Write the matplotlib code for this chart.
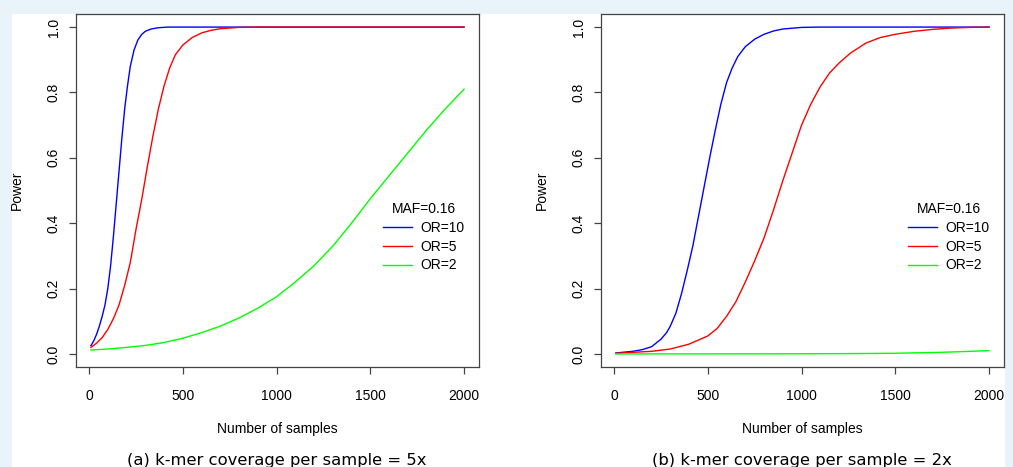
import matplotlib
matplotlib.use("Agg")
import matplotlib.pyplot as plt
from matplotlib.patches import Rectangle

# values (Power vs Number of samples)
n_blue_5x = [10, 25, 40, 55, 70, 85, 100, 115, 130, 145, 160, 175, 190, 205, 220, 240, 260,
             280, 300, 330, 370, 420, 2000]
p_blue_5x = [0.025, 0.04, 0.06, 0.085, 0.115, 0.15, 0.2, 0.27, 0.36, 0.46, 0.56, 0.66, 0.75,
             0.82, 0.88, 0.93, 0.96, 0.977, 0.987, 0.994, 0.998, 1.0, 1.0]

n_red_5x = [10, 40, 70, 100, 130, 160, 190, 220, 250, 280, 310, 340, 370, 400, 430, 460, 500,
            550, 600, 650, 700, 800, 900, 2000]
p_red_5x = [0.02, 0.033, 0.05, 0.075, 0.108, 0.15, 0.21, 0.28, 0.38, 0.47, 0.57, 0.665, 0.75,
            0.82, 0.875, 0.915, 0.945, 0.968, 0.982, 0.99, 0.995, 0.999, 1.0, 1.0]

n_green_5x = [10, 100, 200, 300, 400, 500, 600, 700, 800, 900, 1000, 1100, 1200, 1300, 1400,
              1500, 1600, 1700, 1800, 1900, 2000]
p_green_5x = [0.012, 0.015, 0.02, 0.026, 0.035, 0.048, 0.065, 0.085, 0.11, 0.14, 0.175, 0.22,
              0.27, 0.33, 0.40, 0.475, 0.545, 0.615, 0.685, 0.75, 0.81]

n_blue_2x = [10, 100, 150, 200, 250, 280, 300, 330, 360, 390, 420, 450, 480, 510, 540, 570,
             600, 630, 660, 700, 750, 800, 850, 900, 1000, 1100, 2000]
p_blue_2x = [0.003, 0.008, 0.013, 0.022, 0.045, 0.065, 0.085, 0.125, 0.185, 0.255, 0.33, 0.42,
             0.51, 0.6, 0.685, 0.765, 0.83, 0.875, 0.91, 0.94, 0.963, 0.978, 0.988, 0.994,
             0.999, 1.0, 1.0]

n_red_2x = [10, 200, 300, 400, 500, 550, 600, 650, 700, 750, 800, 850, 900, 950, 1000, 1050,
            1100, 1150, 1200, 1260, 1343, 1420, 1500, 1600, 1700, 1800, 1900, 2000]
p_red_2x = [0.002, 0.008, 0.015, 0.03, 0.055, 0.078, 0.115, 0.16, 0.22, 0.285, 0.355, 0.44,
            0.53, 0.615, 0.7, 0.765, 0.818, 0.86, 0.89, 0.92, 0.951, 0.968, 0.978, 0.987,
            0.993, 0.997, 0.999, 1.0]

n_green_2x = [10, 500, 1000, 1250, 1500, 1750, 2000]
p_green_2x = [0.0, 0.0001, 0.0005, 0.001, 0.002, 0.005, 0.01]

labels = ["OR=10", "OR=5", "OR=2"]
colors = ["#0000ff", "#ff0000", "#00ff00"]
captions = ["(a) k-mer coverage per sample = 5x", "(b) k-mer coverage per sample = 2x"]

panels = [
    [(n_blue_5x, p_blue_5x), (n_red_5x, p_red_5x), (n_green_5x, p_green_5x)],
    [(n_blue_2x, p_blue_2x), (n_red_2x, p_red_2x), (n_green_2x, p_green_2x)],
]

plt.rcParams['font.family'] = ['Liberation Sans', 'DejaVu Sans']

fig = plt.figure(figsize=(10.13, 4.67), dpi=100, facecolor="#e8f3fa")
fig.patches.append(Rectangle((12 / 1013, 0), 993 / 1013, 453 / 467, transform=fig.transFigure,
                             facecolor="white", edgecolor="none", zorder=-10))

axes_left = [76 / 1013, 601 / 1013]
for i, series in enumerate(panels):
    ax = fig.add_axes([axes_left[i], 100 / 467, 403 / 1013, 353 / 467])
    ax.set_facecolor("white")
    for (n, p), lab, col in zip(series, labels, colors):
        ax.plot(n, p, color=col, lw=1.0, label=lab)
    ax.set_xlim(-69.6, 2079.6)
    ax.set_ylim(-0.04, 1.04)
    ax.set_xticks([0, 500, 1000, 1500, 2000])
    ax.set_yticks([0.0, 0.2, 0.4, 0.6, 0.8, 1.0])
    ax.set_yticklabels(["0.0", "0.2", "0.4", "0.6", "0.8", "1.0"], rotation=90, va="center")
    ax.tick_params(direction="out", length=5, width=0.9, color="#444444", labelsize=10)
    ax.tick_params(axis="x", pad=11)
    ax.tick_params(axis="y", pad=6)
    for s in ax.spines.values():
        s.set_color("#444444")
        s.set_linewidth(0.9)
    ax.set_xlabel("Number of samples", fontsize=10)
    ax.set_ylabel("Power", fontsize=10)
    ax.xaxis.set_label_coords(0.5, -0.157)
    ax.yaxis.set_label_coords(-0.13, 0.5)
    leg = ax.legend(title="MAF=0.16", frameon=False, loc="upper left",
                    bbox_to_anchor=(0.762, 0.468), fontsize=10, title_fontsize=10,
                    handlelength=2.1, handletextpad=0.6, labelspacing=0.35,
                    borderpad=0, borderaxespad=0)
    fig.text(axes_left[i] + 201 / 1013, 7 / 467, captions[i], ha="center", va="center",
             fontsize=11.8, family="DejaVu Sans")

fig.savefig("out.png", dpi=100, facecolor=fig.get_facecolor())
